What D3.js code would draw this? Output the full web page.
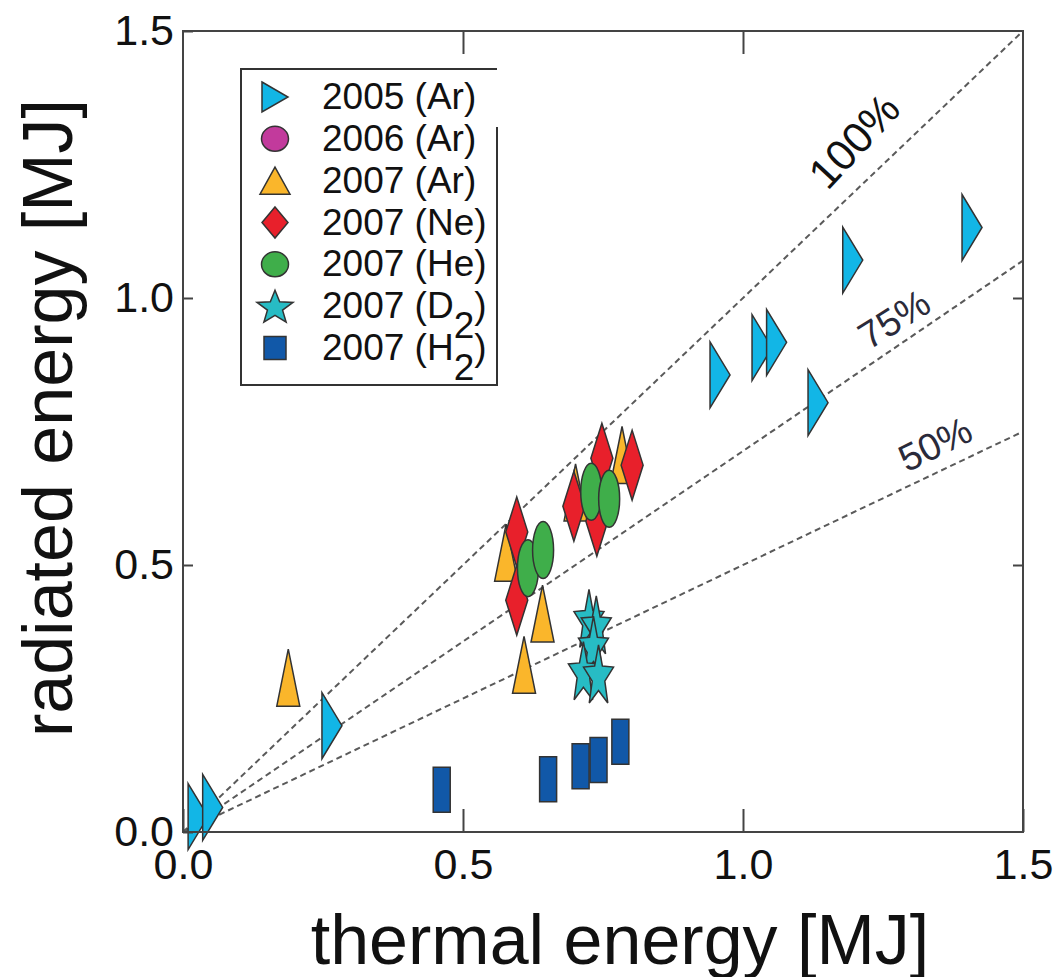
<!DOCTYPE html>
<html>
<head>
<meta charset="utf-8">
<script src="https://cdn.jsdelivr.net/npm/d3@7"></script>
<style>
  html, body { margin: 0; padding: 0; background: #fff; }
  svg { display: block; font-family: "Liberation Sans", Arial, sans-serif; }
</style>
</head>
<body>
<svg id="chart" width="1062" height="977"></svg>
<script>
// Radiated vs. thermal energy (MJ) for each campaign / impurity gas
const seriesNames = ["2005 (Ar)", "2006 (Ar)", "2007 (Ar)", "2007 (Ne)", "2007 (He)", "2007 (D2)", "2007 (H2)"];
const series2005Ar = [[0.027, 0.029], [0.053, 0.046], [0.266, 0.199], [0.959, 0.856], [1.034, 0.907],
                      [1.060, 0.917], [1.134, 0.804], [1.196, 1.071], [1.409, 1.132]];
const series2006Ar = [];
const series2007Ar = [[0.188, 0.289], [0.577, 0.523], [0.642, 0.409], [0.609, 0.313], [0.701, 0.636], [0.784, 0.706]];
const series2007Ne = [[0.596, 0.562], [0.596, 0.434], [0.698, 0.610], [0.748, 0.700], [0.739, 0.582], [0.802, 0.687]];
const series2007He = [[0.616, 0.494], [0.643, 0.528], [0.729, 0.637], [0.761, 0.624]];
const series2007D2 = [[0.725, 0.400], [0.738, 0.388], [0.733, 0.350], [0.715, 0.302], [0.742, 0.296]];
const series2007H2 = [[0.462, 0.079], [0.652, 0.099], [0.710, 0.123], [0.742, 0.135], [0.781, 0.169]];

// Reference fractions: radiated = fraction * thermal, end value at x = 1.5
const refLabels = ["100%", "75%", "50%"];
const refEndValues = [1.5, 1.07, 0.75];

const xTicks = [0, 0.5, 1.0, 1.5];
const yTicks = [0, 0.5, 1.0, 1.5];
const xTickLabels = ["0.0", "0.5", "1.0", "1.5"];
const yTickLabels = ["0.0", "0.5", "1.0", "1.5"];

const svg = d3.select("#chart");
const x = d3.scaleLinear().domain([0, 1.5]).range([183, 1023]);
const y = d3.scaleLinear().domain([0, 1.5]).range([832, 31]);

// ---- marker shapes (centred at origin) ----
const shapes = {
  triRight: (w, h) => `M${-w / 2},${-h / 2}L${w / 2},0L${-w / 2},${h / 2}Z`,
  triUp: (w, h) => `M0,${-h / 2}L${w / 2},${h / 2}L${-w / 2},${h / 2}Z`,
  diamond: (w, h) => `M0,${-h / 2}L${w / 2},0L0,${h / 2}L${-w / 2},0Z`,
  ellipse: (w, h) => `M${-w / 2},0A${w / 2},${h / 2} 0 1 0 ${w / 2},0A${w / 2},${h / 2} 0 1 0 ${-w / 2},0Z`,
  rect: (w, h) => `M${-w / 2},${-h / 2}h${w}v${h}h${-w}Z`,
  star: (w, h) => {
    const pts = [];
    const rx = w / 1.902, ry = h / 1.809, inner = 0.42;
    const cy = (1 - 0.809) / 2 * ry; // vertical centring offset
    for (let i = 0; i < 10; i++) {
      const a = -Math.PI / 2 + i * Math.PI / 5;
      const r = i % 2 === 0 ? 1 : inner;
      pts.push([Math.cos(a) * r * rx, Math.sin(a) * r * ry + cy]);
    }
    return "M" + pts.map(p => p.join(",")).join("L") + "Z";
  }
};

const styles = [
  { data: series2005Ar, shape: "triRight", color: "#12b6e6", plot: [20, 66], leg: [26, 30] },
  { data: series2006Ar, shape: "ellipse",  color: "#c23a9c", plot: [20, 56], leg: [27, 25] },
  { data: series2007Ar, shape: "triUp",    color: "#fab62b", plot: [23, 57], leg: [30, 27] },
  { data: series2007Ne, shape: "diamond",  color: "#e8202b", plot: [22, 70], leg: [26, 31] },
  { data: series2007He, shape: "ellipse",  color: "#3fae4a", plot: [21, 57], leg: [27, 25] },
  { data: series2007D2, shape: "star",     color: "#27bcc4", plot: [30, 58], leg: [36, 32] },
  { data: series2007H2, shape: "rect",     color: "#1158a8", plot: [17, 45], leg: [22, 23] }
];

// ---- reference dashed lines ----
const refG = svg.append("g");
refEndValues.forEach(v => {
  refG.append("line")
    .attr("x1", x(0)).attr("y1", y(0))
    .attr("x2", x(1.5)).attr("y2", y(v))
    .attr("stroke", "#5a5a5a").attr("stroke-width", 2)
    .attr("stroke-dasharray", "6,4");
});

// ---- data markers ----
const markG = svg.append("g");
styles.forEach(s => {
  markG.selectAll(null).data(s.data).enter().append("path")
    .attr("d", shapes[s.shape](s.plot[0], s.plot[1]))
    .attr("transform", d => `translate(${x(d[0])},${y(d[1])})`)
    .attr("fill", s.color)
    .attr("stroke", "#333")
    .attr("stroke-width", 1.5)
    .attr("stroke-linejoin", "miter");
});

// ---- reference line labels ----
const refLabelPos = [
  { t: refLabels[0], cx: 854, cy: 141, rot: -47, size: 43, fill: "#111" },
  { t: refLabels[1], cx: 894, cy: 319, rot: -32, size: 38, fill: "#2a2a3a" },
  { t: refLabels[2], cx: 935, cy: 444, rot: -26, size: 38, fill: "#2a2a3a" }
];
svg.append("g").selectAll("text").data(refLabelPos).enter().append("text")
  .attr("transform", d => `translate(${d.cx},${d.cy}) rotate(${d.rot})`)
  .attr("text-anchor", "middle").attr("dy", "0.35em")
  .attr("font-size", d => d.size).attr("fill", d => d.fill)
  .text(d => d.t);

// ---- axes (inward ticks on all four sides) ----
const axisStyle = g => {
  g.select(".domain").remove();
  g.selectAll(".tick line").attr("stroke", "#444").attr("stroke-width", 2);
  g.selectAll(".tick text").attr("fill", "#111").attr("font-size", 43)
    .attr("font-family", "Liberation Sans, Arial, sans-serif");
};
svg.append("g").attr("transform", `translate(0,${y(0)})`)
  .call(d3.axisBottom(x).tickValues(xTicks).tickFormat((d, i) => xTickLabels[i])
    .tickSizeInner(-23).tickSizeOuter(0).tickPadding(16))
  .call(axisStyle);
svg.append("g").attr("transform", `translate(0,${y(1.5)})`)
  .call(d3.axisTop(x).tickValues(xTicks.slice(1, 3)).tickFormat("").tickSizeInner(-23).tickSizeOuter(0))
  .call(axisStyle);
svg.append("g").attr("transform", `translate(${x(0)},0)`)
  .call(d3.axisLeft(y).tickValues(yTicks).tickFormat((d, i) => yTickLabels[i])
    .tickSizeInner(-10).tickSizeOuter(0).tickPadding(9))
  .call(axisStyle);
svg.append("g").attr("transform", `translate(${x(1.5)},0)`)
  .call(d3.axisRight(y).tickValues(yTicks.slice(1, 3)).tickFormat("").tickSizeInner(-10).tickSizeOuter(0))
  .call(axisStyle);

// plot frame
svg.append("rect")
  .attr("x", x(0)).attr("y", y(1.5))
  .attr("width", x(1.5) - x(0)).attr("height", y(0) - y(1.5))
  .attr("fill", "none").attr("stroke", "#444").attr("stroke-width", 2);

// ---- axis titles ----
svg.append("text")
  .attr("x", 620).attr("y", 964)
  .attr("text-anchor", "middle").attr("font-size", 70).attr("fill", "#111")
  .text("thermal energy [MJ]");
svg.append("text")
  .attr("transform", "translate(72,418) rotate(-90)")
  .attr("text-anchor", "middle").attr("font-size", 70).attr("fill", "#111")
  .text("radiated energy [MJ]");

// ---- legend ----
const legG = svg.append("g");
legG.append("path")
  .attr("d", "M497,127V385H241V69H497")
  .attr("fill", "none").attr("stroke", "#333").attr("stroke-width", 2);
const row = d3.scalePoint().domain(seriesNames).range([109, 360]);
styles.forEach((s, i) => {
  const name = seriesNames[i];
  const base = row(name);
  legG.append("path")
    .attr("d", shapes[s.shape](s.leg[0], s.leg[1]))
    .attr("transform", `translate(275,${base - 12})`)
    .attr("fill", s.color).attr("stroke", "#333").attr("stroke-width", 1.5);
  const t = legG.append("text").attr("x", 322).attr("y", base)
    .attr("font-size", 37).attr("fill", "#111");
  const m = name.match(/^(.*\()([DH])2(\))$/);
  if (m) {
    t.append("tspan").text(m[1] + m[2]);
    t.append("tspan").attr("dy", 20).text("2");
    t.append("tspan").attr("dy", -20).text(m[3]);
  } else {
    t.text(name);
  }
});
</script>
</body>
</html>
